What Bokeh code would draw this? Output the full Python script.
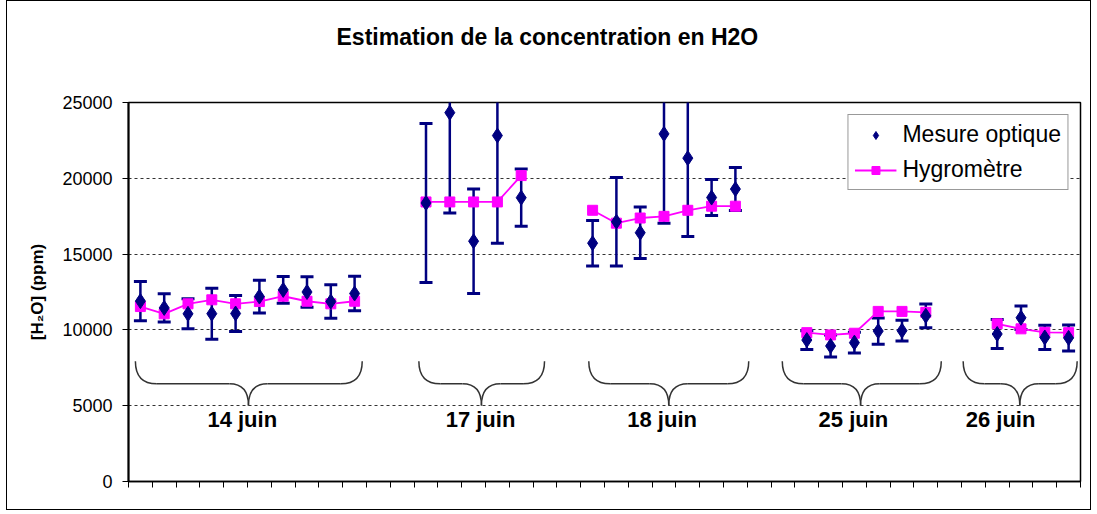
from bokeh.plotting import figure
from bokeh.models import FixedTicker, Legend, LegendItem
from bokeh.core.properties import value
from bokeh.embed import file_html
from bokeh.resources import INLINE
import numpy as np

# ---- data ----
title_text = "Estimation de la concentration en H2O"
days = ["14 juin", "17 juin", "18 juin", "25 juin", "26 juin"]
n_slots = 40
slots_14 = [0, 1, 2, 3, 4, 5, 6, 7, 8, 9]
slots_17 = [12, 13, 14, 15, 16]
slots_18 = [19, 20, 21, 22, 23, 24, 25]
slots_25 = [28, 29, 30, 31, 32, 33]
slots_26 = [36, 37, 38, 39]

mesure_14 = [11900, 11450, 11060, 11070, 11080, 12200, 12640, 12500, 11870, 12400]
err_14 = [1300, 930, 990, 1680, 1190, 1080, 880, 1010, 1100, 1140]
hygro_14 = [11540, 11060, 11720, 11985, 11720, 11870, 12220, 11890, 11720, 11890]

mesure_17 = [18370, 24330, 15850, 22820, 18720]
err_17 = [5250, 6620, 3450, 7110, 1890]
hygro_17 = [18440, 18440, 18440, 18440, 20180]

mesure_18 = [15720, 17140, 16410, 22930, 21330, 18730, 19290]
err_18 = [1500, 2920, 1700, 5890, 5170, 1190, 1420]
hygro_18 = [17890, 17040, 17380, 17490, 17890, 18160, 18160]

mesure_25 = [9330, 8940, 9160, 9920, 9950, 10930]
err_25 = [620, 720, 680, 860, 680, 780]
hygro_25 = [9820, 9670, 9780, 11220, 11220, 11160]

mesure_26 = [9730, 10800, 9500, 9470]
err_26 = [950, 780, 800, 860]
hygro_26 = [10400, 10070, 9840, 9820]

y_ticks = [0, 5000, 10000, 15000, 20000, 25000]

# annotation layout (brace left, middle, right in slot units; label x)
brace_l = [0.29, 12.2, 19.34, 27.47, 35.07]
brace_m = [5.04, 14.83, 22.7, 30.76, 37.45]
brace_r = [9.82, 17.48, 26.06, 34.15, 39.86]
label_x = [4.78, 14.79, 22.42, 30.46, 36.64]

groups = [
    (slots_14, mesure_14, err_14, hygro_14),
    (slots_17, mesure_17, err_17, hygro_17),
    (slots_18, mesure_18, err_18, hygro_18),
    (slots_25, mesure_25, err_25, hygro_25),
    (slots_26, mesure_26, err_26, hygro_26),
]

NAVY = "#000080"
PINK = "#FF00FF"
FONT = "Liberation Sans"

p = figure(width=1085, height=510, x_range=(0, n_slots), y_range=(0, 25000),
           output_backend="svg", toolbar_location=None,
           min_border_left=121, min_border_right=12, min_border_top=101, min_border_bottom=30)
p.styles = {"border": "1px solid #000", "margin-left": "6px"}

# a blank second line lifts the title towards the top of the chart area
p.title.text = title_text + "\n "
p.title.text_font = FONT
p.title.text_font_size = "23px"
p.title.text_font_style = "bold"
p.title.text_color = "black"
p.title.text_line_height = 1.2
p.title.align = "left"
p.title.offset = 208
p.title.vertical_align = "top"
p.title.standoff = 40

p.outline_line_color = "black"
p.outline_line_width = 1.5

p.xgrid.visible = False
p.ygrid.ticker = FixedTicker(ticks=y_ticks)
p.ygrid.grid_line_color = "#333333"
p.ygrid.grid_line_dash = "3 3"
p.ygrid.grid_line_width = 1

xa = p.xaxis[0]
x_ticks = list(range(n_slots + 1))
xa.ticker = FixedTicker(ticks=x_ticks)
xa.major_label_overrides = {t: "" for t in x_ticks}
xa.major_tick_in = 0
xa.major_tick_out = 6
xa.minor_tick_line_color = None
xa.axis_line_width = 1.5
xa.axis_line_color = "black"
xa.major_tick_line_color = "black"

ya = p.yaxis[0]
ya.ticker = FixedTicker(ticks=y_ticks)
ya.major_label_text_font = FONT
ya.major_label_text_font_size = "18px"
ya.major_label_text_color = "black"
ya.major_tick_in = 0
ya.major_tick_out = 6
ya.minor_tick_line_color = None
ya.axis_line_width = 2
ya.axis_line_color = "black"
ya.major_label_standoff = 10
ya.axis_label = "[H₂O] (ppm)"
ya.axis_label_text_font = FONT
ya.axis_label_text_font_size = "17px"
ya.axis_label_text_font_style = "bold"
ya.axis_label_text_color = "black"
ya.axis_label_standoff = 12

diamond_r = None
line_r = None
square_r = None
for slots, mes, err, hyg in groups:
    x = np.array(slots) + 0.5
    mes = np.array(mes, dtype=float)
    err = np.array(err, dtype=float)
    lo = mes - err
    hi = mes + err
    p.segment(x0=x, y0=lo, x1=x, y1=hi, line_color=NAVY, line_width=2.5)
    p.scatter(x=x, y=hi, marker="dash", size=13, line_color=NAVY, line_width=3)
    p.scatter(x=x, y=lo, marker="dash", size=13, line_color=NAVY, line_width=3)
    line_r = p.line(x=x, y=hyg, line_color=PINK, line_width=1.8)
    square_r = p.scatter(x=x, y=hyg, marker="square", size=10, fill_color=PINK, line_color=PINK)
    diamond_r = p.scatter(x=x, y=mes, marker="diamond", size=15, fill_color=NAVY, line_color=NAVY)

# braces
y_top, y_h, y_bot = 7935, 6445, 5013
for xl, xm, xr in zip(brace_l, brace_m, brace_r):
    re = 0.9
    rm = 0.8
    p.quadratic(x0=[xl], y0=[y_top], cx=[xl], cy=[y_h], x1=[xl + re], y1=[y_h],
                line_color="#333333", line_width=1.5)
    p.segment(x0=[xl + re], y0=[y_h], x1=[xm - rm], y1=[y_h], line_color="#333333", line_width=1.5)
    p.quadratic(x0=[xm - rm], y0=[y_h], cx=[xm], cy=[y_h], x1=[xm], y1=[y_bot],
                line_color="#333333", line_width=1.5)
    p.quadratic(x0=[xm], y0=[y_bot], cx=[xm], cy=[y_h], x1=[xm + rm], y1=[y_h],
                line_color="#333333", line_width=1.5)
    p.segment(x0=[xm + rm], y0=[y_h], x1=[xr - re], y1=[y_h], line_color="#333333", line_width=1.5)
    p.quadratic(x0=[xr - re], y0=[y_h], cx=[xr], cy=[y_h], x1=[xr], y1=[y_top],
                line_color="#333333", line_width=1.5)

p.text(x=label_x, y=[4080] * len(days), text=days, text_font=value(FONT),
       text_font_size="22px", text_font_style="bold", text_align="center",
       text_baseline="middle", text_color="black")

legend = Legend(items=[
    LegendItem(label="Mesure optique", renderers=[diamond_r]),
    LegendItem(label="Hygromètre", renderers=[line_r, square_r]),
], location="top_right")
legend.label_text_font = FONT
legend.label_text_font_size = "23px"
legend.label_text_color = "black"
legend.glyph_width = 42
legend.glyph_height = 20
legend.label_height = 20
legend.spacing = 8
legend.padding = 6
legend.margin = 12
legend.label_standoff = 6
legend.border_line_color = "#333333"
legend.border_line_width = 1
legend.background_fill_alpha = 1
p.add_layout(legend)

open("out.html", "w").write(file_html(p, INLINE))
